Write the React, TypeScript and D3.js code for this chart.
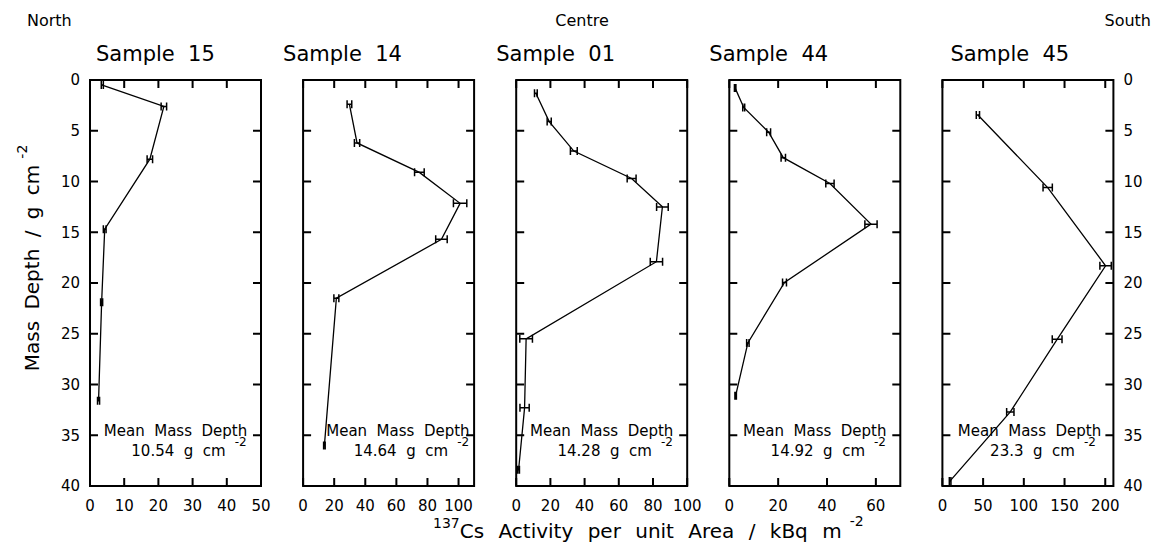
import * as d3 from 'd3'
import { useEffect, useRef } from 'react'

// cores, north -> south
const samples = ['15', '14', '01', '44', '45']
const meanDepths = ['10.54', '14.64', '14.28', '14.92', '23.3']
const xMaxes = [50, 110, 100, 70, 210]
const xTickSteps = [10, 20, 20, 20, 50]

// mass depth (g cm-2), activity (kBq m-2), 1 sigma
const depth15 = [0.5, 2.6, 7.8, 14.7, 21.9, 31.6]
const act15 = [3.6, 21.6, 17.5, 4.3, 3.4, 2.5]
const err15 = [0.3, 0.8, 0.8, 0.4, 0.3, 0.3]

const depth14 = [2.4, 6.2, 9.1, 12.15, 15.7, 21.5, 36.0]
const act14 = [29.8, 34.7, 74.8, 101, 89, 21.4, 13.7]
const err14 = [1.5, 1.7, 3.1, 4.3, 3.7, 1.6, 0.5]

const depth01 = [1.3, 4.1, 7.0, 9.7, 12.5, 17.9, 25.5, 32.3, 38.4]
const act01 = [11.5, 19.3, 33.7, 67.5, 85.5, 82, 5.8, 4.9, 1.4]
const err01 = [0.8, 1.2, 2, 2.6, 3.4, 3.6, 3.7, 2.7, 0.5]

const depth44 = [0.8, 2.7, 5.15, 7.65, 10.2, 14.2, 19.95, 25.9, 31.1]
const act44 = [2.4, 5.9, 16.1, 22.1, 41.2, 58, 22.6, 7.6, 2.6]
const err44 = [0.3, 0.4, 0.8, 0.9, 1.7, 2.5, 0.8, 0.5, 0.3]

const depth45 = [3.45, 10.6, 18.3, 25.55, 32.7, 39.5]
const act45 = [43.6, 129.3, 200.4, 140.9, 83.4, 9.5]
const err45 = [2, 5.7, 7, 6, 4.5, 1]

const depths = [depth15, depth14, depth01, depth44, depth45]
const acts = [act15, act14, act01, act44, act45]
const errs = [err15, err14, err01, err44, err45]

const width = 1159, height = 552
const top = 80, bottom = 486
const left0 = 90, pitch = 213.1, pw = 171
const tick = 8
const font = "'DejaVu Sans', sans-serif"
// layout tweaks per panel
const titleShift = [6, -20, -20, -20, 8]
const noteX = [25, 61, 50, 35, 107] // in data units

const chart = (node) => {
  const svg = d3.select(node)
  svg.selectAll('*').remove()
  svg.append('rect').attr('width', width).attr('height', height).attr('fill', 'white')

  const g = svg.append('g').attr('font-family', font).attr('fill', 'black')
  const y = d3.scaleLinear().domain([0, 40]).range([top, bottom])

  samples.forEach((name, i) => {
    const left = left0 + i * pitch
    const right = left + pw
    const x = d3.scaleLinear().domain([0, xMaxes[i]]).range([left, right])
    const p = g.append('g')

    p.append('text')
      .attr('x', left + titleShift[i]).attr('y', 61)
      .attr('font-size', 21).style('white-space', 'pre')
      .text(`Sample  ${name}`)

    const xt = d3.range(0, xMaxes[i] + 1e-6, xTickSteps[i])
    const yt = d3.range(5, 40, 5)
    const ax = p.append('g').attr('stroke', 'black').attr('stroke-width', 2)
    ax.selectAll('.xt').data(xt).join('path')
      .attr('d', d => `M${x(d)},${top}v${tick}M${x(d)},${bottom}v${-tick}`)
    ax.selectAll('.yt').data(yt).join('path')
      .attr('d', d => `M${left},${y(d)}h${tick}M${right},${y(d)}h${-tick}`)
    ax.append('rect')
      .attr('x', left).attr('y', top).attr('width', pw).attr('height', bottom - top)
      .attr('fill', 'none')

    p.selectAll('.xl').data(xt).join('text')
      .attr('x', d => x(d)).attr('y', bottom + 25)
      .attr('text-anchor', 'middle').attr('font-size', 15)
      .text(d => d)

    if (i === 0 || i === samples.length - 1) {
      const side = i === 0
      p.selectAll('.yl').data(d3.range(0, 41, 5)).join('text')
        .attr('x', side ? left - 10 : right + 10).attr('y', d => y(d))
        .attr('dy', '0.36em')
        .attr('text-anchor', side ? 'end' : 'start').attr('font-size', 15)
        .text(d => d)
    }

    const pts = depths[i].map((d, k) => ({ d, a: acts[i][k], e: errs[i][k] }))
    p.append('path')
      .datum(pts)
      .attr('fill', 'none').attr('stroke', 'black').attr('stroke-width', 1.3)
      .attr('d', d3.line().x(v => x(v.a)).y(v => y(v.d)))

    p.append('g').attr('stroke', 'black').attr('stroke-width', 1.5).attr('fill', 'none')
      .selectAll('path').data(pts).join('path')
      .attr('d', v => {
        const x0 = x(v.a - v.e), x1 = x(v.a + v.e), yy = y(v.d)
        return `M${x0},${yy}H${x1}M${x0},${yy - 4}v8M${x1},${yy - 4}v8`
      })

    const cx = x(noteX[i])
    p.append('text')
      .attr('x', cx).attr('y', 436).attr('text-anchor', 'middle')
      .attr('font-size', 15).style('white-space', 'pre')
      .text('Mean  Mass  Depth')
    const l2 = p.append('text')
      .attr('x', cx + 3).attr('y', 455.5).attr('text-anchor', 'middle')
      .attr('font-size', 15).style('white-space', 'pre')
      .text(`${meanDepths[i]}  g  cm`)
    const bb = l2.node().getBBox()
    p.append('text')
      .attr('x', bb.x + bb.width + 9).attr('y', 446)
      .attr('font-size', 12).text('-2')
  })

  // compass labels
  g.append('text').attr('x', 27).attr('y', 26).attr('font-size', 16).text('North')
  g.append('text').attr('x', 582).attr('y', 26).attr('font-size', 16)
    .attr('text-anchor', 'middle').text('Centre')
  g.append('text').attr('x', 1151).attr('y', 26).attr('font-size', 16)
    .attr('text-anchor', 'end').text('South')

  // axis titles
  const xl = g.append('text').attr('x', 433).attr('y', 538)
    .attr('font-size', 20).attr('word-spacing', 8)
  xl.append('tspan').attr('font-size', 14).attr('dy', -10).text('137')
  xl.append('tspan').attr('dy', 10).text('Cs Activity per unit Area / kBq m')
  xl.append('tspan').attr('font-size', 14).attr('dx', 8).attr('dy', -12).text('-2')

  const yl = g.append('text')
    .attr('transform', 'translate(39,258) rotate(-90)')
    .attr('text-anchor', 'middle').attr('font-size', 20).attr('word-spacing', 5)
  yl.append('tspan').text('Mass Depth / g cm')
  yl.append('tspan').attr('font-size', 14).attr('dx', 6).attr('dy', -12).text('-2')
}

export default function App() {
  const svg = useRef(null)
  useEffect(() => {
    if (svg.current) chart(svg.current)
  }, [])
  return (
    <svg ref={svg} width={width} height={height}
      style={{ position: 'absolute', left: 0, top: 0 }} />
  )
}
